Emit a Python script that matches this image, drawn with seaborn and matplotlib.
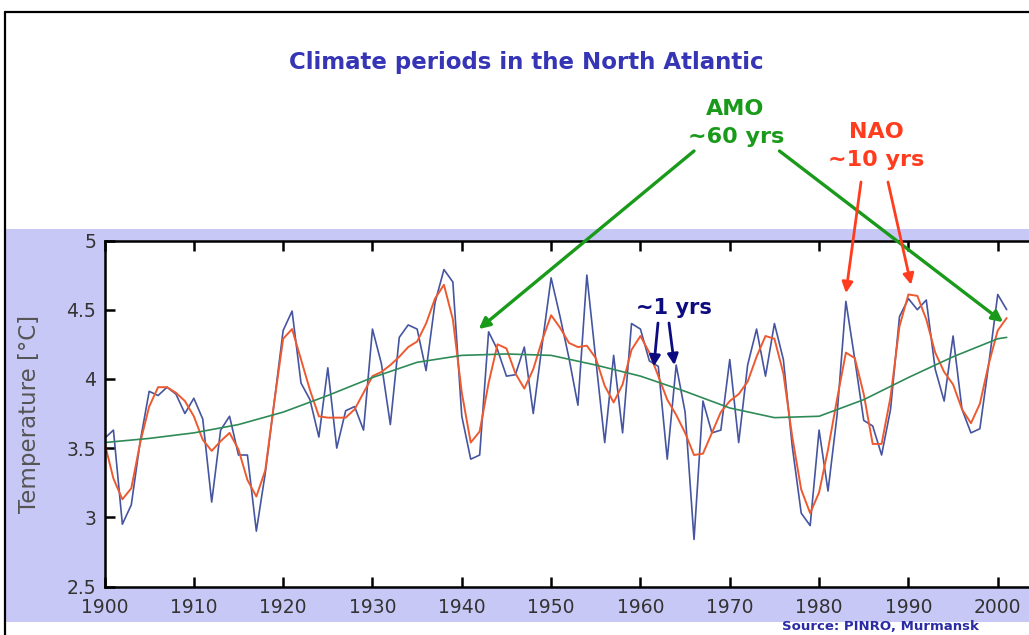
import matplotlib
matplotlib.use('Agg')
import numpy as np
import pandas as pd
import matplotlib.pyplot as plt
import seaborn as sns
from matplotlib.patches import Rectangle
from matplotlib.lines import Line2D

# 年次データ
years = list(range(1900, 2002))

annual_temp = [
    3.57, 3.63, 2.95, 3.09, 3.55, 3.91, 3.88, 3.94, 3.89, 3.75,
    3.86, 3.71, 3.11, 3.63, 3.73, 3.45, 3.45, 2.90, 3.32, 3.83,
    4.35, 4.49, 3.97, 3.85, 3.58, 4.08, 3.50, 3.77, 3.80, 3.63,
    4.36, 4.11, 3.67, 4.30, 4.39, 4.36, 4.06, 4.55, 4.79, 4.70,
    3.73, 3.42, 3.45, 4.34, 4.21, 4.02, 4.03, 4.23, 3.75, 4.25,
    4.73, 4.45, 4.15, 3.81, 4.75, 4.14, 3.54, 4.17, 3.61, 4.40,
    4.36, 4.13, 4.09, 3.42, 4.10, 3.76, 2.84, 3.84, 3.61, 3.63,
    4.14, 3.54, 4.10, 4.36, 4.02, 4.40, 4.14, 3.51, 3.03, 2.94,
    3.63, 3.19, 3.73, 4.56, 4.14, 3.70, 3.66, 3.45, 3.78, 4.45,
    4.58, 4.50, 4.57, 4.07, 3.84, 4.31, 3.78, 3.61, 3.64, 4.11,
    4.61, 4.50,
]

smooth_temp = [
    3.54, 3.28, 3.13, 3.21, 3.54, 3.80, 3.94, 3.94, 3.90, 3.84,
    3.73, 3.56, 3.48, 3.55, 3.61, 3.49, 3.27, 3.15, 3.34, 3.83,
    4.29, 4.36, 4.14, 3.92, 3.73, 3.72, 3.72, 3.72, 3.78, 3.90,
    4.02, 4.05, 4.10, 4.16, 4.23, 4.27, 4.40, 4.58, 4.68, 4.43,
    3.90, 3.54, 3.62, 3.97, 4.25, 4.22, 4.04, 3.93, 4.07, 4.28,
    4.46, 4.37, 4.26, 4.23, 4.24, 4.15, 3.95, 3.83, 3.96, 4.21,
    4.31, 4.19, 4.02, 3.85, 3.74, 3.61, 3.45, 3.46, 3.61, 3.76,
    3.84, 3.89, 3.98, 4.16, 4.31, 4.29, 4.04, 3.58, 3.20, 3.03,
    3.18, 3.49, 3.85, 4.19, 4.15, 3.89, 3.53, 3.53, 3.87, 4.38,
    4.61, 4.60, 4.43, 4.19, 4.05, 3.96, 3.78, 3.68, 3.82, 4.11,
    4.35, 4.44,
]

# AMO（長周期）成分
amo_years = [1900, 1905, 1910, 1915, 1920, 1925, 1930, 1935, 1940, 1945, 1950,
             1955, 1960, 1965, 1970, 1975, 1980, 1985, 1990, 1995, 2000, 2001]
amo_temp = [3.54, 3.57, 3.61, 3.67, 3.76, 3.88, 4.01, 4.12, 4.17, 4.18, 4.17,
            4.10, 4.02, 3.91, 3.79, 3.72, 3.73, 3.85, 4.01, 4.16, 4.29, 4.30]

x_ticks = list(range(1900, 2001, 10))
y_ticks = [2.5, 3, 3.5, 4, 4.5, 5]
y_tick_labels = ['2.5', '3', '3.5', '4', '4.5', '5']

df = pd.DataFrame({'year': years, 'annual': annual_temp, 'smooth': smooth_temp})
df_amo = pd.DataFrame({'year': amo_years, 'amo': amo_temp})

sns.set_style('ticks')
plt.rcParams['font.family'] = ['DejaVu Sans']

W, H = 1029, 635
fig = plt.figure(figsize=(W / 100, H / 100), dpi=100)
fig.patch.set_facecolor('white')

# 背景の薄紫パネルと枠線
fig.patches.append(Rectangle((5 / W, 13 / H), 1, 393 / H, transform=fig.transFigure,
                             facecolor='#c8c8f6', edgecolor='none', zorder=-5))
fig.add_artist(Line2D([5 / W, 5 / W], [0, 1 - 12 / H], color='black', lw=1.6, zorder=5))
fig.add_artist(Line2D([5 / W, 1], [1 - 12 / H, 1 - 12 / H], color='black', lw=1.6, zorder=5))

ax = fig.add_axes([104.5 / W, 48.5 / H, 924.5 / W, 346 / H])
ax.set_facecolor('white')

sns.lineplot(data=df, x='year', y='annual', ax=ax, color='#45559f', lw=1.2)
sns.lineplot(data=df, x='year', y='smooth', ax=ax, color='#ee5a30', lw=1.4)
sns.lineplot(data=df_amo, x='year', y='amo', ax=ax, color='#2e8b57', lw=1.2)

ax.set_xlim(1900, 2003.5)
ax.set_ylim(2.5, 5)
ax.set_xticks(x_ticks)
ax.set_xticklabels([str(t) for t in x_ticks])
ax.set_yticks(y_ticks)
ax.set_yticklabels(y_tick_labels)
ax.tick_params(axis='both', direction='in', length=7, width=1.8, color='black',
               labelsize=13.5, labelcolor='#333333', top=True, pad=6)
ax.tick_params(axis='x', pad=8)
for s in ['left', 'top', 'bottom']:
    ax.spines[s].set_linewidth(1.8)
    ax.spines[s].set_color('black')
ax.spines['right'].set_visible(False)

ax.set_xlabel('')
ax.set_ylabel('Temperature [°C]', fontsize=16.5, color='#555555')
ax.yaxis.set_label_coords(-0.069, 0.5)

# タイトルと注記
fig.text(526 / W, 1 - 63 / H, 'Climate periods in the North Atlantic',
         ha='center', va='center', fontsize=16.5, fontweight='bold', color='#3535b5')
fig.text(735 / W, 1 - 109 / H, 'AMO', ha='center', va='center',
         fontsize=16, fontweight='bold', color='#1a9a1a')
fig.text(736 / W, 1 - 137 / H, '~60 yrs', ha='center', va='center',
         fontsize=16, fontweight='bold', color='#1a9a1a')
fig.text(876 / W, 1 - 132 / H, 'NAO', ha='center', va='center',
         fontsize=16, fontweight='bold', color='#ff3c1e')
fig.text(876 / W, 1 - 160 / H, '~10 yrs', ha='center', va='center',
         fontsize=16, fontweight='bold', color='#ff3c1e')
fig.text(674 / W, 1 - 308 / H, '~1 yrs', ha='center', va='center',
         fontsize=15, fontweight='bold', color='#0c0c80')
fig.text(880 / W, 1 - 627 / H, 'Source: PINRO, Murmansk', ha='center', va='center',
         fontsize=9.5, fontweight='bold', color='#2b2ba6')

# 矢印（先端はデータ座標、始点は図のピクセル座標）
arrows = [
    ((1941.9, 4.36), (694, H - 151), '#1a9a1a', 2.4),
    ((2000.6, 4.41), (779.5, H - 151), '#1a9a1a', 2.4),
    ((1983.0, 4.62), (861, H - 182), '#ff3c1e', 2.0),
    ((1990.3, 4.68), (888, H - 182), '#ff3c1e', 2.0),
    ((1961.5, 4.09), (658, H - 323), '#0c0c80', 2.0),
    ((1963.8, 4.10), (669, H - 323), '#0c0c80', 2.0),
]
for tip, start, col, lw in arrows:
    ax.annotate('', xy=tip, xycoords='data', xytext=start, textcoords='figure pixels',
                arrowprops=dict(arrowstyle='-|>', color=col, lw=lw, mutation_scale=16,
                                shrinkA=0, shrinkB=0), annotation_clip=False)

plt.savefig('out.png', dpi=100)
